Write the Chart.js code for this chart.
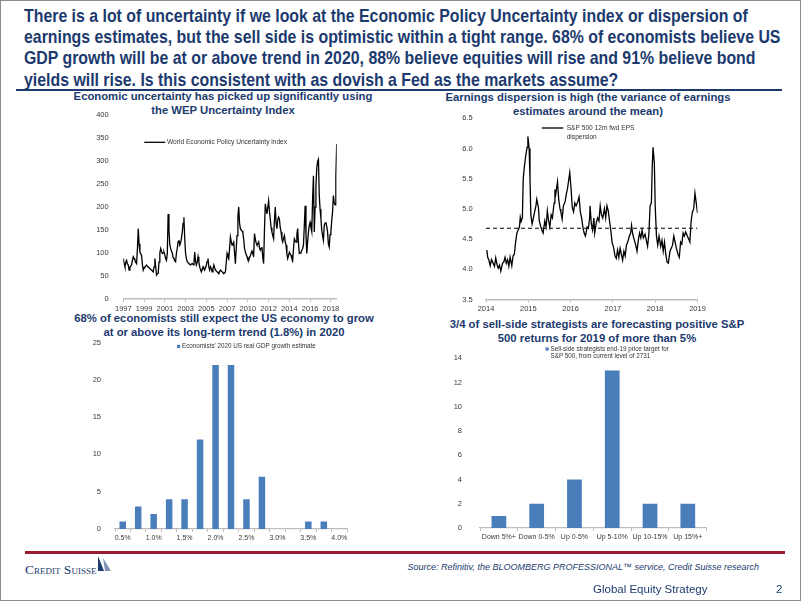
<!DOCTYPE html>
<html><head><meta charset="utf-8">
<script src="https://cdn.jsdelivr.net/npm/chart.js@4.4.1/dist/chart.umd.min.js"></script>
<style>
html,body{margin:0;padding:0;background:#fff;}
#page{position:relative;width:802px;height:602px;overflow:hidden;font-family:"Liberation Sans",Arial,sans-serif;}
.frame{position:absolute;left:0;top:0;width:799px;height:599px;border:1px solid #8c8c8c;}
.hdr{position:absolute;left:24px;top:5px;font-family:"Liberation Sans",Arial,sans-serif;font-weight:bold;font-size:19px;line-height:21.2px;color:#1c3a6e;white-space:nowrap;transform:scaleX(0.835);transform-origin:0 0;}
.rule{position:absolute;left:16px;width:766px;top:89px;height:2px;background:#1c3a6e;}
.ctitle{position:absolute;width:340px;font-weight:bold;font-size:11.3px;line-height:13.7px;color:#1c3a6e;text-align:center;white-space:nowrap;}
canvas{position:absolute;}
.redline{position:absolute;left:25px;width:760px;top:551px;height:3px;background:#9a1b2f;}
.cs{position:absolute;left:25px;top:562px;font-family:"Liberation Serif","Times New Roman",serif;font-size:13.5px;font-variant:small-caps;color:#1c3a6e;letter-spacing:0px;}
.src{position:absolute;right:43px;top:562px;font-style:italic;font-size:9px;color:#1c3a6e;white-space:nowrap;}
.ges{position:absolute;left:593px;top:583px;font-size:11.5px;color:#1c3a6e;white-space:nowrap;}
.pg{position:absolute;left:776px;top:583px;font-size:11.5px;color:#1c3a6e;}
</style></head>
<body>
<div id="page">
  <div class="hdr">There is a lot of uncertainty if we look at the Economic Policy Uncertainty index or dispersion of<br>earnings estimates, but the sell side is optimistic within a tight range. 68% of economists believe US<br>GDP growth will be at or above trend in 2020, 88% believe equities will rise and 91% believe bond<br>yields will rise. Is this consistent with as dovish a Fed as the markets assume?</div>
  <div class="rule"></div>

  <div class="ctitle" style="left:53px;top:90px;">Economic uncertainty has picked up significantly using<br>the WEP Uncertainty Index</div>
  <div class="ctitle" style="left:418px;top:91px;">Earnings dispersion is high (the variance of earnings<br>estimates around the mean)</div>
  <div class="ctitle" style="left:54px;top:312px;">68% of economists still expect the US economy to grow<br>at or above its long-term trend (1.8%) in 2020</div>
  <div class="ctitle" style="left:427px;top:318px;">3/4 of sell-side strategists are forecasting positive S&amp;P<br>500 returns for 2019 of more than 5%</div>

  <canvas id="c1" width="330" height="212" style="left:58px;top:104px;"></canvas>
  <canvas id="c2" width="300" height="208" style="left:420px;top:108px;"></canvas>
  <canvas id="c3" width="330" height="213" style="left:58px;top:332px;"></canvas>
  <canvas id="c4" width="300" height="204" style="left:420px;top:340px;"></canvas>

  <div class="redline"></div>
  <div class="cs">Credit Suisse</div>
  <svg style="position:absolute;left:95px;top:555px;" width="22" height="20" viewBox="0 0 22 20">
    <polygon points="3,1 9,16 3,16" fill="#1c3a6e"/>
    <polygon points="8,3 16,16 10,16" fill="#7f93b5"/>
  </svg>
  <div class="src">Source: Refinitiv, the BLOOMBERG PROFESSIONAL™ service, Credit Suisse research</div>
  <div class="ges">Global Equity Strategy</div>
  <div class="pg">2</div>
  <div class="frame"></div>
</div>
<script>
// ---------------- DATA ----------------
// World Economic Policy Uncertainty index, monthly from Jan 1997
const epuValues = [
  88,78,70,80,84,76,74,63,68,72,74,85,
  92,88,84,80,77,110,153,120,102,98,95,75,
  63,68,70,72,74,71,70,68,66,64,63,61,
  59,70,88,70,52,55,56,80,100,110,104,99,
  100,102,96,88,84,99,185,150,118,110,104,100,
  90,88,83,81,100,110,125,128,117,122,132,145,
  165,178,130,99,88,81,79,77,75,74,76,77,
  75,74,102,82,74,80,92,80,70,64,59,64,
  70,66,63,68,74,82,88,70,63,70,66,59,
  66,74,68,63,61,59,57,55,60,63,61,59,
  57,55,57,59,80,99,93,88,110,135,125,117,
  120,124,100,77,110,138,180,200,165,153,150,148,
  144,130,110,102,97,92,86,84,90,94,100,104,
  98,95,142,130,122,118,120,124,112,106,110,113,
  90,77,150,207,195,185,200,214,190,174,155,146,
  138,131,170,200,165,153,172,178,174,155,146,130,
  124,132,138,125,117,98,88,95,102,98,95,88,
  84,110,131,127,124,140,153,120,99,100,102,106,
  110,118,160,203,140,99,125,146,160,167,155,146,
  220,268,146,200,246,285,300,304,225,195,175,149,
  138,128,160,165,167,158,146,120,113,140,146,170,
  189,225,210,205,268,337
];
const epuTickLabels = ['1997','1999','2001','2003','2005','2007','2010','2012','2014','2016','2018'];
const epuTickEvery = 25; // data points between labelled ticks
const epuLabel = 'World Economic Policy Uncertainty index';

// S&P 500 12m fwd EPS dispersion (decimal year, value)
const dispDates = [
  2014.02,2014.04,2014.07,2014.10,2014.13,2014.17,2014.20,2014.23,2014.26,2014.29,2014.32,2014.35,
  2014.39,2014.42,2014.45,2014.48,2014.51,2014.54,2014.57,2014.61,2014.64,2014.67,2014.70,2014.73,
  2014.76,2014.79,2014.81,2014.83,2014.86,2014.88,2014.91,2014.94,2014.97,2014.99,2015.02,2015.04,
  2015.06,2015.09,2015.12,2015.15,2015.18,2015.20,2015.24,2015.26,2015.29,2015.32,2015.35,2015.39,
  2015.42,2015.45,2015.48,2015.51,2015.54,2015.57,2015.61,2015.63,2015.65,2015.69,2015.72,2015.75,
  2015.77,2015.80,2015.83,2015.87,2015.90,2015.93,2015.96,2015.98,2016.01,2016.04,2016.07,2016.10,
  2016.13,2016.17,2016.20,2016.23,2016.26,2016.29,2016.32,2016.35,2016.39,2016.42,2016.45,2016.46,
  2016.49,2016.52,2016.55,2016.57,2016.61,2016.64,2016.67,2016.70,2016.73,2016.76,2016.80,2016.83,
  2016.86,2016.89,2016.92,2016.95,2016.98,2017.02,2017.05,2017.08,2017.11,2017.14,2017.17,2017.20,
  2017.23,2017.26,2017.29,2017.32,2017.35,2017.39,2017.42,2017.44,2017.47,2017.50,2017.54,2017.57,
  2017.60,2017.63,2017.66,2017.69,2017.72,2017.76,2017.79,2017.82,2017.85,2017.88,2017.91,2017.93,
  2017.95,2017.98,2018.00,2018.03,2018.06,2018.09,2018.13,2018.16,2018.19,2018.22,2018.25,2018.28,
  2018.31,2018.35,2018.38,2018.41,2018.44,2018.47,2018.50,2018.54,2018.57,2018.60,2018.63,2018.66,
  2018.69,2018.72,2018.76,2018.79,2018.82,2018.85,2018.88,2018.91,2018.94,2018.97,2019.00
];
const dispValues = [
  4.32,4.20,4.15,4.06,4.16,4.10,4.05,4.19,4.08,4.02,4.07,3.97,
  4.10,4.12,4.20,4.10,4.16,4.05,4.20,4.06,4.22,4.25,4.45,4.60,
  4.65,4.70,4.86,4.79,4.85,5.50,5.72,5.88,6.02,6.20,6.00,5.50,
  4.90,4.75,4.85,4.95,5.05,5.16,5.02,4.80,4.72,4.65,4.60,4.80,
  4.70,4.97,4.80,4.70,4.90,4.85,5.10,5.32,5.25,5.45,5.15,5.00,
  4.95,4.83,5.05,5.12,5.25,5.35,5.50,5.60,5.35,5.02,4.95,5.10,
  5.05,5.12,5.20,4.95,4.85,4.70,4.60,4.55,4.70,4.68,4.85,5.05,
  4.75,4.65,4.85,4.60,4.78,4.85,4.80,5.05,4.90,4.85,5.00,4.85,
  5.05,4.97,4.80,4.65,4.45,4.35,4.22,4.18,4.32,4.20,4.35,4.25,
  4.15,4.30,4.22,4.40,4.45,4.55,4.60,4.73,4.58,4.50,4.40,4.30,
  4.48,4.60,4.52,4.65,4.52,4.58,4.48,4.38,4.58,5.05,5.10,5.70,
  6.02,5.75,5.05,4.55,4.40,4.55,4.38,4.48,4.30,4.45,4.25,4.12,
  4.10,4.30,4.35,4.40,4.55,4.45,4.35,4.25,4.20,4.45,4.42,4.60,
  4.55,4.62,4.55,4.50,4.45,4.80,4.95,5.00,5.26,5.10,4.93
];
const dispAverage = 4.68;
const dispLabelLines = ['S&P 500 12m fwd EPS', 'dispersion'];

// Economists' 2020 US real GDP growth estimate (count of economists)
const gdpCategories = ['0.5%','0.75%','1.0%','1.25%','1.5%','1.75%','2.0%','2.25%','2.5%','2.75%','3.0%','3.25%','3.5%','3.75%','4.0%'];
const gdpCounts = [1,3,2,4,4,12,22,22,4,7,0,0,1,1,0];
const gdpLabel = "Economists' 2020 US real GDP growth estimate";

// Sell-side strategists end-19 S&P 500 targets (count)
const spCategories = ['Down 5%+','Down 0-5%','Up 0-5%','Up 5-10%','Up 10-15%','Up 15%+'];
const spCounts = [1,2,4,13,2,2];
const spLabelLines = ['Sell-side strategists end-19 price target for', 'S&P 500, from current level of 2731'];

// ---------------- STYLE ----------------
const FONT = '"Liberation Sans", Arial, sans-serif';
const TICK_COLOR = '#3a3a3a';
const AXIS_COLOR = '#bdbdbd';
const BAR_COLOR = '#4a7ebb';
Chart.defaults.font.family = FONT;
Chart.defaults.animation = false;

const innerLegend = {
  id: 'innerLegend',
  afterDraw(chart, args, o) {
    if (!o || !o.lines) return;
    const ctx = chart.ctx, ds = chart.data.datasets[0];
    ctx.save();
    if (o.marker === 'line') {
      ctx.strokeStyle = ds.borderColor; ctx.lineWidth = ds.borderWidth;
      ctx.beginPath(); ctx.moveTo(o.mx, o.y); ctx.lineTo(o.mx + o.mlen, o.y); ctx.stroke();
    } else {
      ctx.fillStyle = ds.backgroundColor;
      ctx.fillRect(o.mx, o.y - o.mlen / 2, o.mlen, o.mlen);
    }
    ctx.fillStyle = '#333';
    ctx.font = o.size + 'px ' + FONT;
    ctx.textBaseline = 'middle';
    o.lines.forEach((t, i) => ctx.fillText(t, o.tx, o.y + i * o.gap));
    ctx.restore();
  }
};

function yAxis(min, max, step, width, pad, fmt) {
  return {
    min, max, grid: { display: false }, border: { display: false },
    ticks: { stepSize: step, padding: pad, color: TICK_COLOR, font: { size: 7.5 }, callback: fmt || (v => v) },
    afterFit: s => { s.width = width; }
  };
}

// ---------------- CHART 1 ----------------
new Chart(document.getElementById('c1'), {
  type: 'line',
  data: {
    datasets: [{
      label: epuLabel,
      data: epuValues.map((v, i) => ({ x: i, y: v })),
      borderColor: '#000', borderWidth: 1.3, pointRadius: 0, tension: 0, fill: false
    }]
  },
  options: {
    responsive: false, devicePixelRatio: 1,
    layout: { padding: { top: 10, right: 51.3, left: 0, bottom: 0 } },
    plugins: { legend: { display: false }, tooltip: { enabled: false },
      innerLegend: { marker: 'line', mx: 86.3, mlen: 21, y: 38.3, tx: 109, size: 6.6, gap: 8, lines: [epuLabel] } },
    scales: {
      x: {
        type: 'linear', min: 0, max: epuValues.length - 1,
        grid: { drawOnChartArea: false, drawTicks: true, tickLength: 3, color: AXIS_COLOR },
        border: { color: AXIS_COLOR, width: 1.5 },
        afterBuildTicks: s => { s.ticks = epuTickLabels.map((t, k) => ({ value: k * epuTickEvery })); },
        ticks: { padding: 2, color: TICK_COLOR, font: { size: 7.5 }, maxRotation: 0, autoSkip: false,
          callback: (v) => epuTickLabels[Math.round(v / epuTickEvery)] },
        afterFit: s => { s.height = 17; }
      },
      y: yAxis(0, 400, 50, 65.3, 6.6)
    }
  },
  plugins: [innerLegend]
});

// ---------------- CHART 2 ----------------
new Chart(document.getElementById('c2'), {
  type: 'line',
  data: {
    datasets: [{
      label: dispLabelLines.join(' '),
      data: dispValues.map((v, i) => ({ x: dispDates[i], y: v })),
      borderColor: '#000', borderWidth: 1.3, pointRadius: 0, tension: 0, fill: false
    }, {
      label: 'Average',
      data: [{ x: dispDates[0] - 0.02, y: dispAverage }, { x: dispDates[dispDates.length - 1], y: dispAverage }],
      borderColor: '#000', borderWidth: 1.1, borderDash: [4, 3], pointRadius: 0, fill: false
    }]
  },
  options: {
    responsive: false, devicePixelRatio: 1,
    layout: { padding: { top: 10.3, right: 22.5, left: 0, bottom: 0 } },
    plugins: { legend: { display: false }, tooltip: { enabled: false },
      innerLegend: { marker: 'line', mx: 121.7, mlen: 21.6, y: 20, tx: 146.7, size: 6.6, gap: 8.7, lines: dispLabelLines } },
    scales: {
      x: {
        type: 'linear', min: 2014, max: 2019,
        grid: { drawOnChartArea: false, drawTicks: true, tickLength: 3, color: AXIS_COLOR },
        border: { color: AXIS_COLOR, width: 1.5 },
        ticks: { stepSize: 1, padding: 2, color: TICK_COLOR, font: { size: 7.5 }, maxRotation: 0, callback: v => String(v) },
        afterFit: s => { s.height = 16.5; }
      },
      y: yAxis(3.5, 6.5, 0.5, 66, 5.3, v => v.toFixed(1))
    }
  },
  plugins: [innerLegend]
});

// ---------------- CHART 3 ----------------
new Chart(document.getElementById('c3'), {
  type: 'bar',
  data: {
    labels: gdpCategories,
    datasets: [{ label: gdpLabel, data: gdpCounts, backgroundColor: BAR_COLOR, borderWidth: 0,
      barPercentage: 0.42, categoryPercentage: 1 }]
  },
  options: {
    responsive: false, devicePixelRatio: 1,
    layout: { padding: { top: 10, right: 41, left: 0, bottom: 0 } },
    plugins: { legend: { display: false }, tooltip: { enabled: false },
      innerLegend: { marker: 'square', mx: 119, mlen: 3.2, y: 14.5, tx: 124, size: 6.3, gap: 8, lines: [gdpLabel] } },
    scales: {
      x: {
        grid: { drawOnChartArea: false, drawTicks: true, tickLength: 3, color: AXIS_COLOR, offset: true },
        border: { color: AXIS_COLOR, width: 1.2 },
        ticks: { padding: 2, color: TICK_COLOR, font: { size: 7 }, maxRotation: 0, autoSkip: false,
          callback: (v, i) => (i % 2 === 0 ? gdpCategories[i] : '') },
        afterFit: s => { s.height = 16; }
      },
      y: yAxis(0, 25, 5, 57, 6)
    }
  },
  plugins: [innerLegend]
});

// ---------------- CHART 4 ----------------
new Chart(document.getElementById('c4'), {
  type: 'bar',
  data: {
    labels: spCategories,
    datasets: [{ label: spLabelLines.join(' '), data: spCounts, backgroundColor: BAR_COLOR, borderWidth: 0,
      barPercentage: 0.39, categoryPercentage: 1 }]
  },
  options: {
    responsive: false, devicePixelRatio: 1,
    layout: { padding: { top: 18.3, right: 13.3, left: 0, bottom: 0 } },
    plugins: { legend: { display: false }, tooltip: { enabled: false },
      innerLegend: { marker: 'square', mx: 125.5, mlen: 3.2, y: 9, tx: 130.5, size: 6.3, gap: 7.7, lines: spLabelLines } },
    scales: {
      x: {
        grid: { drawOnChartArea: false, drawTicks: true, tickLength: 3, color: AXIS_COLOR, offset: true },
        border: { color: AXIS_COLOR, width: 1.2 },
        ticks: { padding: 2, color: TICK_COLOR, font: { size: 7 }, maxRotation: 0, autoSkip: false },
        afterFit: s => { s.height = 16; }
      },
      y: yAxis(0, 14, 2, 60, 10)
    }
  },
  plugins: [innerLegend]
});
</script>
</body></html>
